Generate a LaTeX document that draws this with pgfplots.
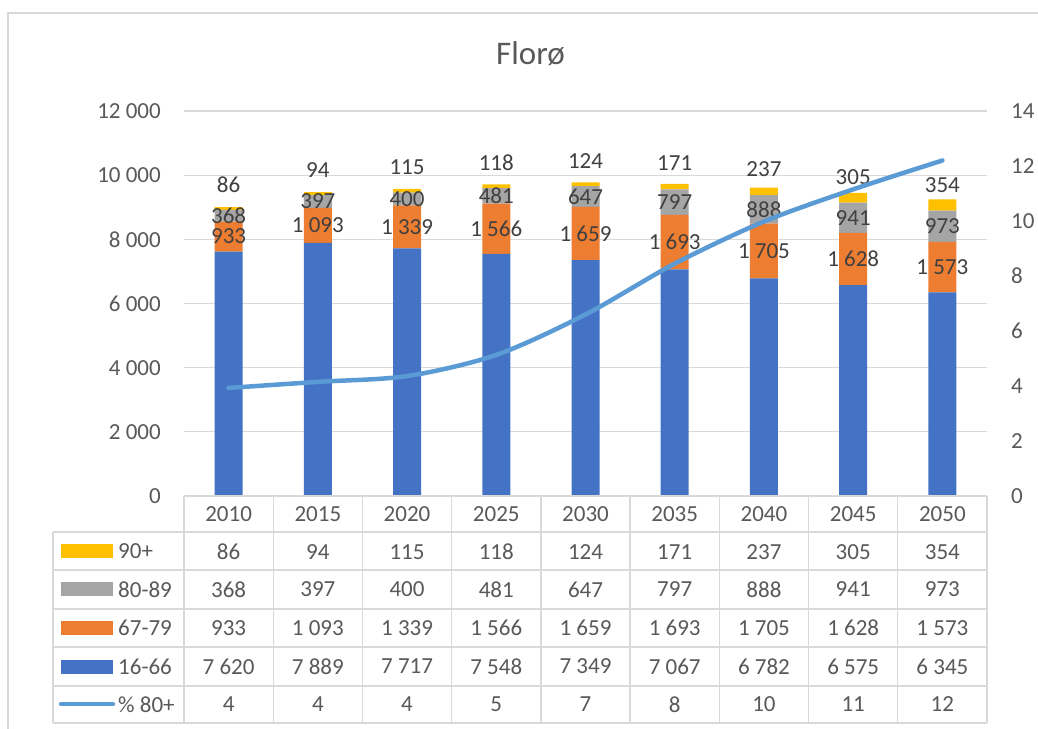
\documentclass[border=0pt]{standalone}
\usepackage{pgfplots}
\pgfplotsset{compat=1.18}
\usepackage{pgfplotstable}
\usepackage{fontspec}
\setmainfont{Carlito}
\definecolor{cBlue}{HTML}{4472C4}
\definecolor{cOrange}{HTML}{ED7D31}
\definecolor{cGray}{HTML}{A5A5A5}
\definecolor{cYellow}{HTML}{FFC000}
\definecolor{cLine}{HTML}{5B9BD5}
\definecolor{cText}{HTML}{595959}
\definecolor{cLab}{HTML}{404040}
\definecolor{cGrid}{HTML}{D9D9D9}
\newcommand\fs{\fontsize{23}{27}\selectfont}

\pgfplotstableread{
x y
0 7620
1 7889
2 7717
3 7548
4 7349
5 7067
6 6782
7 6575
8 6345
}\tblA
\pgfplotstableread{
x y
0 933
1 1093
2 1339
3 1566
4 1659
5 1693
6 1705
7 1628
8 1573
}\tblB
\pgfplotstableread{
x y
0 368
1 397
2 400
3 481
4 647
5 797
6 888
7 941
8 973
}\tblC
\pgfplotstableread{
x y dy
0 86 23.4
1 94 23.6
2 115 23.8
3 118 23.3
4 124 23.3
5 171 23.7
6 237 22
7 305 20.3
8 354 19.5
}\tblD
\pgfplotstableread{
x p lab
0 3.93 4
1 4.15 4
2 4.36 4
3 5.13 5
4 6.60 7
5 8.45 8
6 9.98 10
7 11.15 11
8 12.20 12
}\tblE

\begin{document}
\begin{tikzpicture}
\useasboundingbox (0pt,0pt) rectangle (1038pt,728pt);
\fill[white] (0pt,0pt) rectangle (1038pt,728pt);
\draw[cGrid, line width=1.3pt] (8pt,-10pt) -- (8pt,715pt) -- (1050pt,715pt);

% bars
\begin{axis}[
  at={(184pt,232pt)}, anchor=south west,
  scale only axis, width=803pt, height=385pt,
  xmin=-0.5, xmax=8.5, ymin=0, ymax=12000,
  ybar stacked, bar width=28pt,
  ytick={0,2000,...,12000},
  scaled y ticks=false,
  xtick={0,...,8},
  xticklabels={2010,2015,2020,2025,2030,2035,2040,2045,2050},
  major tick length=0pt,
  axis line style={draw=none},
  ymajorgrids, grid style={cGrid, line width=1.3pt},
  tick label style={font=\fs, text=cText},
  yticklabel style={anchor=east, inner sep=0pt, xshift=-23pt},
  xticklabel style={anchor=center, inner sep=0pt, yshift=-18pt},
  /pgf/number format/assume math mode=true,
  /pgf/number format/1000 sep={\ },
  clip=false,
]
\addplot[fill=cBlue, draw=none] table[x=x,y=y]{\tblA};
\addplot[fill=cOrange, draw=none,
  nodes near coords,
  every node near coord/.append style={font=\fs, text=cLab, inner sep=0pt, anchor=center}]
  table[x=x,y=y]{\tblB};
\addplot[fill=cGray, draw=none,
  nodes near coords,
  every node near coord/.append style={font=\fs, text=cLab, inner sep=0pt, anchor=center}]
  table[x=x,y=y]{\tblC};
\addplot[fill=cYellow, draw=none,
  nodes near coords,
  visualization depends on={\thisrow{dy}\as\dy},
  every node near coord/.append style={font=\fs, text=cLab, inner sep=0pt, anchor=center,
    yshift=\dy pt}] table[x=x,y=y]{\tblD};
\end{axis}

% line on secondary axis
\begin{axis}[
  at={(184pt,232pt)}, anchor=south west,
  scale only axis, width=803pt, height=385pt,
  xmin=-0.5, xmax=8.5, ymin=0, ymax=14,
  ytick={0,2,...,14}, xtick=\empty,
  yticklabel pos=right,
  major tick length=0pt,
  axis line style={draw=none},
  tick label style={font=\fs, text=cText},
  yticklabel style={anchor=west, inner sep=0pt, xshift=24pt},
  /pgf/number format/assume math mode=true,
  clip=false,
]
\addplot[cLine, line width=4.5pt, smooth, line cap=round, line join=round, mark=none]
  table[x=x,y=p]{\tblE};
\end{axis}

% data table text
\begin{axis}[
  at={(184pt,232pt)}, anchor=south west,
  scale only axis, width=803pt, height=385pt,
  xmin=-0.5, xmax=8.5, ymin=0, ymax=385,
  hide axis, clip=false,
  /pgf/number format/assume math mode=true,
  /pgf/number format/1000 sep={\ },
  every node near coord/.append style={font=\fs, text=cText, inner sep=0pt, anchor=center},
]
\addplot[draw=none, mark=none, nodes near coords, point meta=\thisrow{y}] table[x=x, y expr=-55.7]{\tblD};
\addplot[draw=none, mark=none, nodes near coords, point meta=\thisrow{y}] table[x=x, y expr=-93.5]{\tblC};
\addplot[draw=none, mark=none, nodes near coords, point meta=\thisrow{y}] table[x=x, y expr=-132]{\tblB};
\addplot[draw=none, mark=none, nodes near coords, point meta=\thisrow{y}] table[x=x, y expr=-170.5]{\tblA};
\addplot[draw=none, mark=none, nodes near coords, point meta=\thisrow{lab}] table[x=x, y expr=-208.5]{\tblE};
\end{axis}

% table grid
\foreach \k in {0,...,9} {
  \draw[cGrid, line width=1.3pt] ({184pt+89.222pt*\k},232pt) -- ({184pt+89.222pt*\k},5pt);
}
\draw[cGrid, line width=1.3pt] (53pt,196pt) -- (53pt,5pt);
\draw[cGrid, line width=1.3pt] (184pt,232pt) -- (987pt,232pt);
\foreach \yy in {196,158,119,81,42,5} {
  \draw[cGrid, line width=1.3pt] (53pt,\yy pt) -- (987pt,\yy pt);
}

% legend keys
\fill[cYellow] (61pt,170pt) rectangle (113pt,184pt);
\fill[cGray] (61pt,131.5pt) rectangle (113pt,145.5pt);
\fill[cOrange] (61pt,93pt) rectangle (113pt,107pt);
\fill[cBlue] (61pt,54.5pt) rectangle (113pt,68.5pt);
\draw[cLine, line width=4.5pt, line cap=round] (61pt,24pt) -- (113pt,24pt);
\begin{scope}[every node/.style={anchor=west, inner sep=0pt, font=\fs, text=cText}]
\node at (118pt,177pt) {90+};
\node at (118pt,138.5pt) {80-89};
\node at (118pt,100pt) {67-79};
\node at (118pt,61.5pt) {16-66};
\node at (118pt,23.5pt) {\% 80+};
\end{scope}

% title
\node[anchor=base, inner sep=0pt, font=\fontsize{33}{40}\selectfont, text=cText] at (530.5pt,663pt) {Florø};
\end{tikzpicture}
\end{document}
